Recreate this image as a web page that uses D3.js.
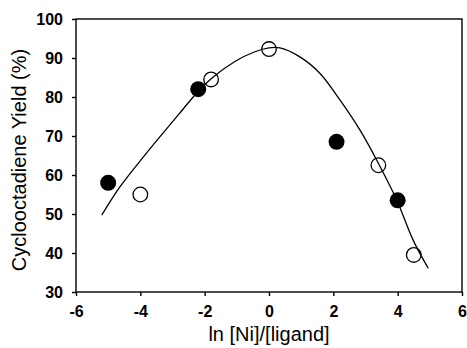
<!DOCTYPE html>
<html>
<head>
<meta charset="utf-8">
<script src="https://cdn.jsdelivr.net/npm/d3@7"></script>
<style>
  body { margin: 0; background: #fff; }
  text { font-family: "Liberation Sans", Arial, sans-serif; fill: #000; }
</style>
</head>
<body>
<div id="chart"></div>
<script>
// filled circles
const filledX = [-5.0, -2.2, 2.1, 4.0]
const filledY = [58, 82, 68.5, 53.5]
// open circles
const openX = [-4.0, -1.8, 0.0, 3.4, 4.5]
const openY = [55, 84.5, 92.3, 62.5, 39.5]
// fitted curve
const curveX = [-5.2, -4.63, -3.86, -2.82, -2.3, -1.78, -1.06, -0.44, 0.0, 0.34, 0.96, 1.58, 2.21, 2.83, 3.35, 3.97, 4.48, 4.95]
const curveY = [49.7, 57.0, 65.1, 75.4, 80.5, 84.8, 89.1, 91.6, 92.6, 92.6, 90.3, 86.1, 79.2, 71.5, 63.8, 53.6, 43.3, 36.1]
const xTicks = [-6, -4, -2, 0, 2, 4, 6]
const yTicks = [30, 40, 50, 60, 70, 80, 90, 100]

const width = 467, height = 348
const mLeft = 76, mRight = 462, mTop = 19, mBottom = 292

const svg = d3.select("#chart").append("svg")
    .attr("width", width)
    .attr("height", height)

const x = d3.scaleLinear().domain([-6, 6]).range([mLeft, mRight])
const y = d3.scaleLinear().domain([30, 100]).range([mBottom, mTop])

// frame
svg.append("rect")
    .attr("x", mLeft).attr("y", mTop)
    .attr("width", mRight - mLeft).attr("height", mBottom - mTop)
    .attr("fill", "none").attr("stroke", "#000").attr("stroke-width", 1.4)

// plain hyphen minus like the original
const fmt = d => String(d)

const xAxis = svg.append("g")
    .attr("transform", `translate(0,${mBottom})`)
    .call(d3.axisBottom(x).tickValues(xTicks).tickFormat(fmt).tickSize(4).tickPadding(10).tickSizeOuter(0))
xAxis.select(".domain").remove()
xAxis.selectAll("line").attr("stroke-width", 1.4)
xAxis.selectAll("text").style("font-size", "16px").style("font-weight", "bold").style("font-family", "Liberation Sans, Arial")

const yAxis = svg.append("g")
    .attr("transform", `translate(${mLeft},0)`)
    .call(d3.axisLeft(y).tickValues(yTicks).tickFormat(fmt).tickSize(4).tickPadding(9).tickSizeOuter(0))
yAxis.select(".domain").remove()
yAxis.selectAll("line").attr("stroke-width", 1.4)
yAxis.selectAll("text").style("font-size", "16px").style("font-weight", "bold").style("font-family", "Liberation Sans, Arial")

// curve
const line = d3.line()
    .x(d => x(d[0]))
    .y(d => y(d[1]))
    .curve(d3.curveCatmullRom)
svg.append("path")
    .datum(d3.zip(curveX, curveY))
    .attr("d", line)
    .attr("fill", "none")
    .attr("stroke", "#000")
    .attr("stroke-width", 1.3)

svg.append("g").selectAll("circle")
    .data(d3.zip(filledX, filledY))
    .join("circle")
    .attr("cx", d => x(d[0]))
    .attr("cy", d => y(d[1]))
    .attr("r", 8)
    .attr("fill", "#000")

svg.append("g").selectAll("circle")
    .data(d3.zip(openX, openY))
    .join("circle")
    .attr("cx", d => x(d[0]))
    .attr("cy", d => y(d[1]))
    .attr("r", 7.3)
    .attr("fill", "none")
    .attr("stroke", "#000")
    .attr("stroke-width", 1.3)

// titles
svg.append("text")
    .attr("x", (mLeft + mRight) / 2)
    .attr("y", 341)
    .attr("text-anchor", "middle")
    .style("font-size", "20px")
    .text("ln [Ni]/[ligand]")

svg.append("text")
    .attr("transform", `translate(26,160) rotate(-90)`)
    .attr("text-anchor", "middle")
    .style("font-size", "20px")
    .text("Cyclooctadiene Yield (%)")
</script>
</body>
</html>
